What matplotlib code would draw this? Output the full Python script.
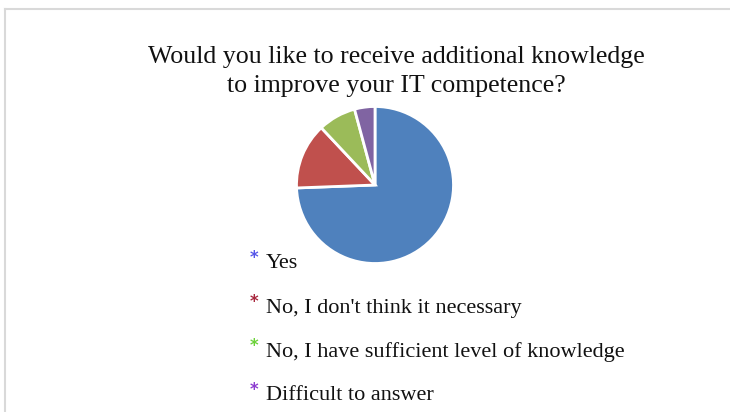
import matplotlib
matplotlib.use("Agg")
import matplotlib.pyplot as plt
from matplotlib.lines import Line2D

title_lines = ["Would you like to receive additional knowledge",
               "to improve your IT competence?"]
categories = ["Yes",
              "No, I don't think it necessary",
              "No, I have sufficient level of knowledge",
              "Difficult to answer"]
shares = [74.4, 13.6, 7.8, 4.2]
slice_colors = ["#4F81BD", "#C0504D", "#9BBB59", "#8064A2"]
marker_colors = ["#5656E8", "#A8283E", "#6CD23A", "#8C3CD0"]

W, H = 730, 412
fig = plt.figure(figsize=(W / 100, H / 100), dpi=100)
fig.patch.set_facecolor("white")

# light frame along the top and left edges
fig.add_artist(Line2D([5 / W, 1], [1 - 8.5 / H] * 2, color="#d9d9d9", lw=1.5))
fig.add_artist(Line2D([5 / W] * 2, [1 - 8.5 / H, 0], color="#d9d9d9", lw=1.5))

serif = "Liberation Serif"
fig.text(396.5 / W, 1 - 57 / H, title_lines[0], ha="center", va="center",
         fontsize=18.6, family=serif, color="#111111")
fig.text(396.5 / W, 1 - 86 / H, title_lines[1], ha="center", va="center",
         fontsize=18.6, family=serif, color="#111111")

# pie
cx, cy, r = 375, 185, 78.5
ax = fig.add_axes([(cx - r) / W, 1 - (cy + r) / H, 2 * r / W, 2 * r / H])
ax.pie(shares, colors=slice_colors, startangle=90, counterclock=False,
       wedgeprops=dict(edgecolor="white", linewidth=2))
ax.set_xlim(-1.0, 1.0)
ax.set_ylim(-1.0, 1.0)
ax.set_aspect("equal")
ax.axis("off")

# legend rows: coloured asterisk + label
baselines = [268.5, 312.5, 356.5, 400.5]
for label, col, yb in zip(categories, marker_colors, baselines):
    fig.text(254.5 / W, 1 - (yb - 5) / H, "*", ha="center", va="baseline",
             fontsize=12, color=col, family="DejaVu Sans", weight="bold")
    fig.text(266 / W, 1 - yb / H, label, ha="left", va="baseline",
             fontsize=16, family=serif, color="#111111")

fig.savefig("out.png", dpi=100, facecolor="white")
